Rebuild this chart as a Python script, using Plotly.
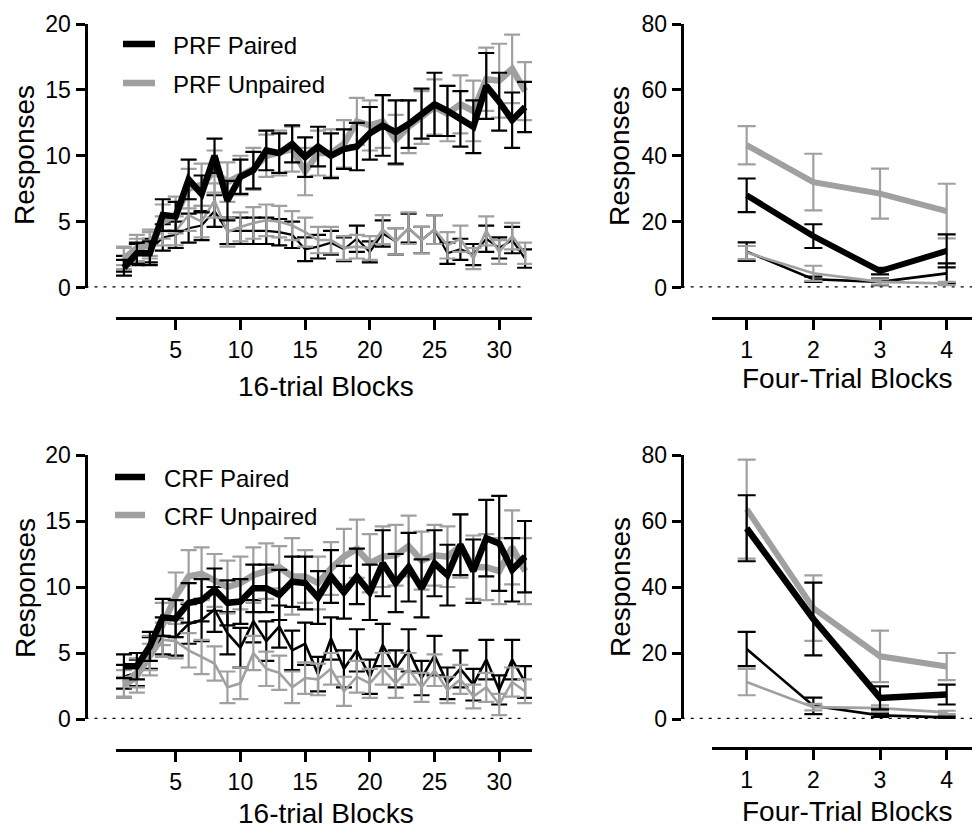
import plotly.graph_objects as go

W, H = 972, 828
FONT = "Liberation Sans, Arial, sans-serif"
GREY = "#a0a0a0"

# ---------------- data ----------------
blocks16 = list(range(1, 33))
blocks4 = [1, 2, 3, 4]
ticks16 = [5, 10, 15, 20, 25, 30]
ticks4 = [1, 2, 3, 4]
ticks_left_y = [0, 5, 10, 15, 20]
ticks_right_y = [0, 20, 40, 60, 80]

# PRF, 16-trial blocks
prf_paired = [1.5, 2.6, 2.6, 5.5, 5.4, 8.2, 7.1, 10.0, 6.6, 8.4, 8.9, 10.4, 10.2, 10.9, 9.9, 10.7,
              10.0, 10.5, 10.7, 11.7, 12.3, 11.8, 12.4, 13.2, 13.9, 13.4, 12.8, 12.2, 15.3, 14.1, 12.7, 13.7]
prf_paired_err = [0.6, 0.8, 0.9, 1.2, 1.1, 1.5, 1.4, 1.3, 1.5, 1.3, 1.4, 1.5, 1.5, 1.4, 1.5, 1.5,
                  1.7, 1.5, 1.8, 2.0, 2.3, 2.4, 1.8, 1.9, 2.4, 1.9, 2.1, 2.0, 2.5, 2.2, 2.1, 1.9]
prf_unpaired = [2.2, 3.0, 3.2, 5.0, 5.5, 7.5, 7.8, 8.8, 8.0, 8.5, 9.0, 10.0, 10.2, 10.5, 8.8, 10.2,
                10.2, 10.9, 12.6, 12.3, 12.6, 11.2, 12.2, 12.9, 13.7, 13.2, 13.9, 13.4, 15.8, 15.7, 16.6, 14.9]
prf_unpaired_err = [0.8, 1.0, 1.0, 1.3, 1.4, 1.5, 1.6, 1.6, 1.5, 1.5, 1.6, 1.6, 1.7, 1.7, 1.8, 1.7,
                    1.8, 1.8, 1.8, 1.9, 2.0, 1.9, 2.0, 2.0, 2.1, 2.1, 2.2, 2.3, 2.4, 2.8, 2.6, 2.2]
prf_paired_thin = [1.8, 2.5, 2.8, 3.8, 4.0, 4.5, 4.7, 5.8, 4.3, 4.3, 4.3, 4.3, 4.2, 4.0, 2.9, 3.1,
                   3.4, 2.9, 3.7, 2.7, 4.1, 3.5, 4.5, 3.6, 4.4, 2.6, 2.9, 2.5, 3.7, 3.0, 3.6, 2.2]
prf_paired_thin_err = [0.6, 0.8, 0.9, 1.0, 1.0, 1.1, 1.1, 1.2, 1.0, 1.0, 1.0, 1.0, 1.0, 1.0, 0.9, 0.9,
                       0.9, 0.9, 1.0, 0.8, 1.0, 1.0, 1.1, 1.0, 1.1, 0.8, 0.8, 0.8, 1.0, 0.8, 1.0, 0.7]
prf_unpaired_thin = [2.4, 2.8, 3.4, 4.3, 4.3, 5.5, 5.0, 6.6, 4.2, 4.6, 4.9, 5.1, 5.0, 4.7, 4.2, 3.6,
                     3.6, 3.0, 3.1, 3.0, 4.4, 3.5, 4.5, 3.6, 4.4, 3.2, 3.7, 2.2, 4.3, 2.7, 3.9, 2.6]
prf_unpaired_thin_err = [0.7, 0.9, 1.0, 1.1, 1.1, 1.2, 1.2, 1.3, 1.1, 1.1, 1.2, 1.2, 1.2, 1.1, 1.1, 1.0,
                         1.0, 0.9, 0.9, 0.9, 1.1, 1.0, 1.2, 1.0, 1.1, 1.0, 1.0, 0.8, 1.1, 0.9, 1.0, 0.8]

# CRF, 16-trial blocks
crf_paired = [4.0, 4.0, 5.5, 7.7, 7.6, 8.8, 9.0, 9.8, 8.8, 8.9, 9.9, 9.9, 9.4, 10.4, 10.3, 9.2,
              10.8, 9.6, 10.8, 9.6, 11.8, 10.3, 11.5, 9.9, 11.8, 10.9, 13.2, 11.2, 13.7, 13.3, 11.3, 12.3]
crf_paired_err = [0.9, 1.0, 1.1, 1.4, 1.4, 1.5, 1.6, 1.6, 1.7, 1.7, 1.8, 1.8, 1.9, 1.9, 2.0, 2.0,
                  2.0, 2.0, 2.1, 2.1, 2.5, 2.2, 2.6, 2.2, 2.5, 2.3, 2.3, 2.4, 2.9, 3.6, 2.4, 2.7]
crf_unpaired = [2.7, 3.5, 5.0, 7.2, 9.3, 10.8, 11.0, 10.5, 10.0, 10.3, 10.9, 11.2, 11.5, 10.8, 10.8, 10.3,
                11.4, 12.3, 12.9, 11.8, 12.3, 12.4, 13.1, 12.0, 12.4, 12.3, 13.1, 11.5, 11.5, 11.2, 13.0, 11.2]
crf_unpaired_err = [1.0, 1.1, 1.3, 1.6, 1.8, 2.0, 2.0, 2.0, 2.0, 2.0, 2.1, 2.1, 1.6, 2.9, 2.0, 2.0,
                    2.0, 2.1, 2.2, 2.2, 2.3, 2.3, 2.3, 2.2, 2.3, 2.3, 2.4, 2.4, 2.5, 2.5, 2.8, 2.5]
crf_paired_thin = [3.2, 3.5, 5.0, 6.3, 6.2, 7.2, 7.5, 8.3, 6.5, 5.4, 7.4, 5.9, 7.0, 5.2, 5.7, 3.4,
                   6.1, 3.8, 5.2, 3.2, 5.6, 3.8, 5.2, 3.1, 4.8, 2.7, 3.8, 2.6, 4.5, 2.2, 4.5, 2.8]
crf_paired_thin_err = [0.9, 1.0, 1.2, 1.4, 1.4, 1.5, 1.6, 1.7, 1.6, 1.5, 1.6, 1.5, 1.6, 1.5, 1.6, 1.3,
                       1.6, 1.4, 1.6, 1.3, 1.6, 1.4, 1.6, 1.3, 1.5, 1.2, 1.4, 1.2, 1.5, 1.1, 1.5, 1.2]
crf_unpaired_thin = [2.4, 3.0, 4.5, 6.0, 5.9, 5.2, 4.7, 4.2, 2.4, 2.7, 5.0, 3.8, 3.5, 2.4, 3.1, 3.0,
                     3.8, 2.1, 3.2, 2.7, 3.8, 2.7, 3.8, 2.4, 3.7, 2.2, 3.0, 1.7, 2.4, 1.1, 2.8, 2.1]
crf_unpaired_thin_err = [0.8, 1.0, 1.2, 1.3, 1.3, 1.3, 1.3, 1.3, 1.2, 1.2, 1.3, 1.3, 1.3, 1.2, 1.2, 1.2,
                         1.2, 1.1, 1.2, 1.1, 1.2, 1.1, 1.2, 1.1, 1.2, 1.0, 1.1, 0.9, 1.1, 0.8, 1.1, 0.9]

# PRF, four-trial blocks
prf4_paired = [28.0, 15.6, 5.0, 11.1]
prf4_paired_err = [5.1, 3.6, 1.0, 5.0]
prf4_unpaired = [43.2, 32.0, 28.5, 23.2]
prf4_unpaired_err = [5.8, 8.6, 7.6, 8.3]
prf4_paired_thin = [10.9, 2.5, 1.7, 4.3]
prf4_paired_thin_err = [2.8, 0.8, 1.0, 3.0]
prf4_unpaired_thin = [10.6, 4.3, 1.7, 1.2]
prf4_unpaired_thin_err = [2.0, 2.3, 0.8, 0.5]

# CRF, four-trial blocks
crf4_paired = [57.8, 30.3, 6.4, 7.4]
crf4_paired_err = [10.0, 11.0, 3.5, 3.0]
crf4_unpaired = [63.6, 33.6, 19.0, 15.9]
crf4_unpaired_err = [15.0, 9.9, 7.8, 4.1]
crf4_paired_thin = [21.2, 4.0, 1.1, 0.5]
crf4_paired_thin_err = [5.2, 2.5, 0.5, 0.3]
crf4_unpaired_thin = [11.2, 3.6, 3.3, 2.0]
crf4_unpaired_thin_err = [4.0, 1.0, 0.8, 0.5]

legend_top = ["PRF Paired", "PRF Unpaired"]
legend_bottom = ["CRF Paired", "CRF Unpaired"]


def px(v):
    return v / W


def py(v):
    return 1 - v / H


fig = go.Figure()


def add(x, y, err, color, width, xa, ya, cap, name=None):
    fig.add_trace(go.Scatter(
        x=x, y=y, mode="lines", name=name, showlegend=False,
        line=dict(color=color, width=width),
        error_y=dict(type="data", array=err, visible=True, color=color,
                     thickness=2.2, width=cap),
        xaxis=xa, yaxis=ya, hoverinfo="skip"))


# top-left (PRF)
add(blocks16, prf_paired_thin, prf_paired_thin_err, "black", 2.2, "x", "y", 8)
add(blocks16, prf_unpaired_thin, prf_unpaired_thin_err, GREY, 2.6, "x", "y", 8)
add(blocks16, prf_unpaired, prf_unpaired_err, GREY, 6.5, "x", "y", 8, legend_top[1])
add(blocks16, prf_paired, prf_paired_err, "black", 6.5, "x", "y", 8, legend_top[0])
# top-right
add(blocks4, prf4_paired_thin, prf4_paired_thin_err, "black", 2.6, "x2", "y2", 9)
add(blocks4, prf4_unpaired_thin, prf4_unpaired_thin_err, GREY, 2.6, "x2", "y2", 9)
add(blocks4, prf4_unpaired, prf4_unpaired_err, GREY, 6, "x2", "y2", 9)
add(blocks4, prf4_paired, prf4_paired_err, "black", 6, "x2", "y2", 9)
# bottom-left (CRF)
add(blocks16, crf_paired_thin, crf_paired_thin_err, "black", 2.6, "x3", "y3", 8)
add(blocks16, crf_unpaired_thin, crf_unpaired_thin_err, GREY, 2.6, "x3", "y3", 8)
add(blocks16, crf_unpaired, crf_unpaired_err, GREY, 6.5, "x3", "y3", 8, legend_bottom[1])
add(blocks16, crf_paired, crf_paired_err, "black", 6.5, "x3", "y3", 8, legend_bottom[0])
# bottom-right
add(blocks4, crf4_paired_thin, crf4_paired_thin_err, "black", 2.6, "x4", "y4", 9)
add(blocks4, crf4_unpaired_thin, crf4_unpaired_thin_err, GREY, 2.6, "x4", "y4", 9)
add(blocks4, crf4_unpaired, crf4_unpaired_err, GREY, 6, "x4", "y4", 9)
add(blocks4, crf4_paired, crf4_paired_err, "black", 6.5, "x4", "y4", 9)

tickfont = dict(family=FONT, size=23, color="black")
common_axis = dict(showline=True, linecolor="black", linewidth=3, ticks="outside",
                   tickcolor="black", tickwidth=3, showgrid=False, zeroline=False,
                   tickfont=tickfont)

# geometry (pixels)
L_YAX, L_X0, L_X1 = 85.5, 116, 532
L_UNIT0, L_UNIT = 111, 12.94
R_YAX, R_X0, R_X1 = 681.7, 711.7, 972
R_UNIT0, R_UNIT = 680, 66.67
TOP_Y0, TOP_Y1, TOP_XAX = 287.5, 24, 318
BOT_Y0, BOT_Y1, BOT_XAX = 719, 455, 749

lrange = [(L_X0 - L_UNIT0) / L_UNIT, (L_X1 - L_UNIT0) / L_UNIT]
rrange = [(R_X0 - R_UNIT0) / R_UNIT, (R_X1 - R_UNIT0) / R_UNIT]


def xax(domain, rng, tickvals, pos):
    d = dict(common_axis)
    d.update(domain=[px(domain[0]), px(domain[1])], range=rng, tickvals=tickvals,
             anchor="free", position=py(pos), ticklen=10)
    return d


def yax(dom, rng, tickvals, pos):
    d = dict(common_axis)
    d.update(domain=[py(dom[0]), py(dom[1])], range=rng, tickvals=tickvals,
             anchor="free", position=px(pos), ticklen=9)
    return d


fig.update_layout(
    width=W, height=H, margin=dict(l=0, r=0, t=0, b=0, autoexpand=False),
    paper_bgcolor="white", plot_bgcolor="white", showlegend=False,
    font=dict(family=FONT, color="black"),
    xaxis=xax((L_X0, L_X1), lrange, ticks16, TOP_XAX),
    yaxis=yax((TOP_Y0, TOP_Y1), [0, 20], ticks_left_y, L_YAX),
    xaxis2=xax((R_X0, R_X1), rrange, ticks4, TOP_XAX),
    yaxis2=yax((TOP_Y0, TOP_Y1), [0, 80], ticks_right_y, R_YAX),
    xaxis3=xax((L_X0, L_X1), lrange, ticks16, BOT_XAX + 1),
    yaxis3=yax((BOT_Y0, BOT_Y1), [0, 20], ticks_left_y, L_YAX),
    xaxis4=xax((R_X0, R_X1), rrange, ticks4, BOT_XAX - 1),
    yaxis4=yax((BOT_Y0, BOT_Y1), [0, 80], ticks_right_y, R_YAX),
)

# dotted zero reference lines
for ya, x0, x1 in [("y", L_YAX, 524), ("y2", R_YAX, 972), ("y3", L_YAX, 524), ("y4", R_YAX, 972)]:
    fig.add_shape(type="line", xref="paper", yref=ya, x0=px(x0), x1=px(x1), y0=0, y1=0,
                  line=dict(color="black", width=2.5, dash="3px,6px"), layer="below")

# legend keys (drawn manually to match the reference spacing)
legend_items = [
    (legend_top[0], "black", 123, 155, 44, 171),
    (legend_top[1], GREY, 123, 155, 83, 171),
    (legend_bottom[0], "black", 115, 145, 477, 162),
    (legend_bottom[1], GREY, 115, 145, 515, 162),
]
for text, col, lx0, lx1, ly, tx in legend_items:
    fig.add_shape(type="line", xref="paper", yref="paper", x0=px(lx0), x1=px(lx1),
                  y0=py(ly), y1=py(ly), line=dict(color=col, width=6.5))
    fig.add_annotation(text=text, x=px(tx), y=py(ly + 1), xref="paper", yref="paper",
                       showarrow=False, xanchor="left", yanchor="middle",
                       font=dict(family=FONT, size=24, color="black"))

# titles
ann = [
    ("Responses", 25, 155, -90), ("Responses", 25, 588, -90),
    ("Responses", 620, 156, -90), ("Responses", 620, 587, -90),
    ("16-trial Blocks", 326, 386, 0), ("16-trial Blocks", 326, 813, 0),
    ("Four-Trial Blocks", 847, 378, 0), ("Four-Trial Blocks", 847, 811, 0),
]
for text, ax, ay, ang in ann:
    fig.add_annotation(text=text, x=px(ax), y=py(ay), xref="paper", yref="paper",
                       showarrow=False, textangle=ang, xanchor="center", yanchor="middle",
                       font=dict(family=FONT, size=28, color="black"))

# the page's default body margin would shift the figure; remove it
fig.write_html("out.html", config={"displayModeBar": False},
               post_script="document.body.style.margin='0px';")
